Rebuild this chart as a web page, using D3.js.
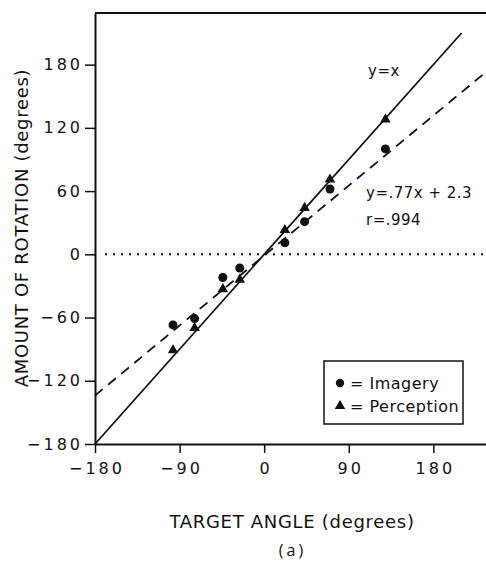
<!DOCTYPE html>
<html><head><meta charset="utf-8">
<script src="https://cdn.jsdelivr.net/npm/d3@7"></script>
<style>body{margin:0;background:#fff}svg{display:block}</style>
</head><body><svg id="c" width="486" height="562"></svg>
<script>
// ---- data ----
const targetAngles = [-97, -74, -44, -26, 22, 43, 70, 129];
const imagery      = [-67, -61, -22, -13, 11, 31, 62, 100];
const perception   = [-91, -70, -33, -24, 23, 44, 71, 128];
const xTicks = [-180, -90, 0, 90, 180];
const yTicks = [-180, -120, -60, 0, 60, 120, 180];
const identityX = [-180, 210];          // y = x
const fitX = [-180, 236];               // dashed regression line
const fitY = [-134, 173];
const identityLabel = "y=x";
const fitLabel = "y=.77x + 2.3";
const rLabel = "r=.994";
const legendLabels = ["= Imagery", "= Perception"];
const xTitle = "TARGET ANGLE (degrees)";
const yTitle = "AMOUNT OF ROTATION (degrees)";
const caption = "(a)";

const svg = d3.select("#c");
const ink = "#111";
const font = "DejaVu Sans";

const x = d3.scaleLinear().domain([-180, 236]).range([95, 486]);
const y = d3.scaleLinear().domain([-180, 229]).range([444, 13]);

// frame: top line
svg.append("line").attr("x1", x(-180)).attr("x2", 486).attr("y1", y(229)).attr("y2", y(229))
  .attr("stroke", ink).attr("stroke-width", 2);

// axes
const ax = svg.append("g").attr("transform", `translate(0,${y(-180)})`)
  .call(d3.axisBottom(x).tickValues(xTicks).tickSize(9).tickSizeOuter(0).tickPadding(10));
const ay = svg.append("g").attr("transform", `translate(${x(-180)},0)`)
  .call(d3.axisLeft(y).tickValues(yTicks).tickSize(10).tickSizeOuter(0).tickPadding(2));
[ax, ay].forEach(g => {
  g.select(".domain").attr("stroke", ink).attr("stroke-width", 2);
  g.selectAll(".tick line").attr("stroke", ink).attr("stroke-width", 1.5);
  g.selectAll(".tick text").attr("fill", ink).attr("font-family", font)
    .attr("font-size", 16).attr("letter-spacing", 3);
});
ax.selectAll(".tick text").attr("dx", 1.5);

// zero dotted line
svg.append("line").attr("x1", x(-180) + 10).attr("x2", 486).attr("y1", y(0)).attr("y2", y(0))
  .attr("stroke", ink).attr("stroke-width", 2).attr("stroke-dasharray", "2,6");

// y = x line
svg.append("line")
  .attr("x1", x(identityX[0])).attr("y1", y(identityX[0]))
  .attr("x2", x(identityX[1])).attr("y2", y(identityX[1]))
  .attr("stroke", ink).attr("stroke-width", 1.8);

// fit line dashed
svg.append("line")
  .attr("x1", x(fitX[0])).attr("y1", y(fitY[0]))
  .attr("x2", x(fitX[1])).attr("y2", y(fitY[1]))
  .attr("stroke", ink).attr("stroke-width", 1.8).attr("stroke-dasharray", "10,7");

// points
const tri = d3.symbol().type(d3.symbolTriangle).size(48);
svg.append("g").selectAll("path").data(targetAngles).join("path")
  .attr("d", tri).attr("fill", ink)
  .attr("transform", (d, i) => `translate(${x(d)},${y(perception[i])})`);
svg.append("g").selectAll("circle").data(targetAngles).join("circle")
  .attr("cx", d => x(d)).attr("cy", (d, i) => y(imagery[i])).attr("r", 4.5).attr("fill", ink);

// annotations
const ann = (t, px, py) => svg.append("text").attr("x", px).attr("y", py).text(t)
  .attr("font-family", font).attr("font-size", 15).attr("letter-spacing", 0.5).attr("fill", ink);
ann(identityLabel, 368, 76);
ann(fitLabel, 366, 198);
ann(rLabel, 366, 225);

// legend
svg.append("rect").attr("x", 324).attr("y", 361).attr("width", 139).attr("height", 63)
  .attr("fill", "#fff").attr("stroke", ink).attr("stroke-width", 1.5);
const ly = [383, 406];
svg.append("circle").attr("cx", 340).attr("cy", ly[0]).attr("r", 4.2).attr("fill", ink);
svg.append("path").attr("d", tri).attr("fill", ink).attr("transform", `translate(340,${ly[1]})`);
legendLabels.forEach((t, i) => svg.append("text").attr("x", 350).attr("y", ly[i]).attr("dy", "0.35em")
  .text(t).attr("font-family", font).attr("font-size", 16).attr("letter-spacing", 0.5).attr("fill", ink));

// axis titles
svg.append("text").attr("x", 292).attr("y", 528).attr("text-anchor", "middle").text(xTitle)
  .attr("font-family", font).attr("font-size", 18).attr("letter-spacing", 0.7).attr("fill", ink);
svg.append("text").attr("transform", "translate(28,228) rotate(-90)").attr("text-anchor", "middle").text(yTitle)
  .attr("font-family", font).attr("font-size", 18).attr("letter-spacing", 0.7).attr("fill", ink);
svg.append("text").attr("x", 291).attr("y", 556).attr("text-anchor", "middle").text(caption)
  .attr("font-family", "Open Sans").attr("font-size", 16).attr("letter-spacing", 3).attr("dx", 1.5).attr("fill", ink);
</script></body></html>
